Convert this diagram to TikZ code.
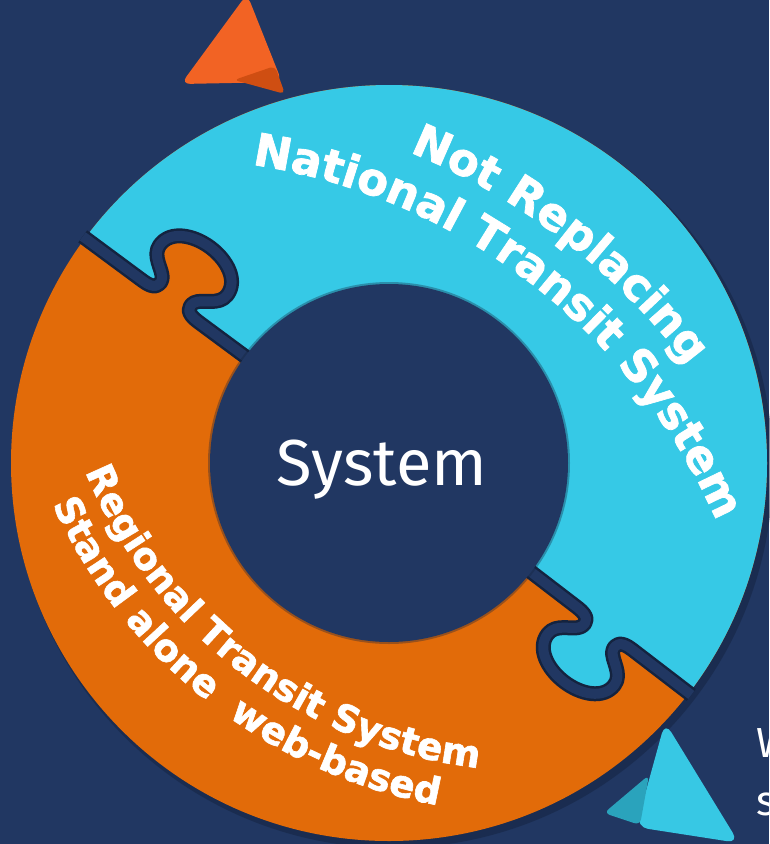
\documentclass[tikz,border=0pt]{standalone}
\usepackage{fontspec}
\usepackage{tikz}
\usetikzlibrary{decorations.text}
\newfontfamily\ringfont{DejaVu Sans Bold}[FakeBold=1.6]
\newfontfamily\labelfont{Fira Sans}
\definecolor{bgnavy}{HTML}{213762}
\definecolor{gapdark}{HTML}{14233F}
\definecolor{ringcyan}{HTML}{36C9E6}
\definecolor{ringorange}{HTML}{E26B09}
\definecolor{triorange}{HTML}{F26324}
\definecolor{foldorange}{HTML}{CF4E12}
\definecolor{tricyan}{HTML}{37C8E4}
\definecolor{foldcyan}{HTML}{2AA3BC}
\newcommand\cyantext{\ringfont\fontsize{45}{45}\selectfont}
\newcommand\orangetext{\ringfont\fontsize{37.5}{37.5}\selectfont}
% puzzle knob, local frame: x radial, negative y = clockwise side
\newcommand\knobcurve{(238,0) .. controls (252,0) and (255,-6) .. (252,-13)
  .. controls (248,-21) and (230,-25) .. (230,-39)
  .. controls (230,-57) and (251,-67) .. (272,-67)
  .. controls (293,-67) and (314,-57) .. (314,-39)
  .. controls (314,-25) and (296,-21) .. (292,-13)
  .. controls (289,-6) and (292,0) .. (306,0)}
\newcommand\gapcut{(170,0) -- \knobcurve -- (381,0)}

\begin{document}
\begin{tikzpicture}[x=1pt,y=1pt,
  gapshade/.style={draw=gapdark,line width=15pt,line join=round},
  gapline/.style={draw=bgnavy,line width=10pt,line join=round},
  ringtext/.style={decorate,decoration={text along path,text align=center,text color=white,#1}},
  edgetext/.style={font=\labelfont\fontsize{42}{42}\selectfont,text=white,inner sep=0pt,anchor=base west}]
\fill[bgnavy] (0,0) rectangle (769,-844);
\useasboundingbox (0,0) rectangle (769,-844);
\coordinate (c) at (389,-463);

% ring
\fill[gapdark,opacity=.5] ([shift={(4,-5)}]c) circle (380);
\fill[ringorange] (c) circle (378);
\fill[ringcyan] (c) -- ([shift={(-37.5:378)}]c) arc[start angle=-37.5,end angle=143.5,radius=378] -- cycle;
\begin{scope}[shift={(c)},rotate=143.5]
  \fill[ringorange] \knobcurve -- (306,9) -- (238,9) -- cycle;
  \draw[gapshade] \gapcut;
  \draw[gapline] \gapcut;
\end{scope}
\begin{scope}[shift={(c)},rotate=-37.5]
  \fill[ringcyan] \knobcurve -- (306,9) -- (238,9) -- cycle;
  \draw[gapshade] \gapcut;
  \draw[gapline] \gapcut;
\end{scope}
\fill[gapdark,opacity=.35] (c) circle (181);
\fill[bgnavy] (c) circle (179);

% curved labels
\path[ringtext={text={|\cyantext|Not Replacing}}]
  ([shift={(70:659)}]162,-763) arc[start angle=70,end angle=35,radius=659];
\path[ringtext={text={|\cyantext|National Transit System}}]
  ([shift={(84:605)}]162,-763) arc[start angle=84,end angle=21,radius=605];
\path[ringtext={text={|\orangetext|Regional Transit System}}]
  ([shift={(196:486)}]534,-285) arc[start angle=196,end angle=270,radius=486];
\path[ringtext={text={|\orangetext|Stand alone~~web-based}}]
  ([shift={(198:529)}]534,-285) arc[start angle=198,end angle=266,radius=529];

\node[font=\labelfont\fontsize{65}{65}\selectfont,text=white,anchor=base] (sys) at (382,-485) {System};

% paper triangles
\fill[triorange,rounded corners=9pt] (247,6) -- (181,-84) -- (282,-82) -- cycle;
\fill[foldorange,rounded corners=5pt] (234,-80) -- (285,-94) -- (275,-66) -- cycle;
\fill[tricyan,rounded corners=12pt] (665,-722) -- (739,-843) -- (636,-827) -- cycle;
\fill[foldcyan,rounded corners=6pt] (649,-775) -- (604,-813) -- (640,-825) -- cycle;

% cut-off text at the right edge
\node[edgetext] (w) at (756,-757) {W};
\node[edgetext] (s) at (756,-815) {s};
\end{tikzpicture}
\end{document}
